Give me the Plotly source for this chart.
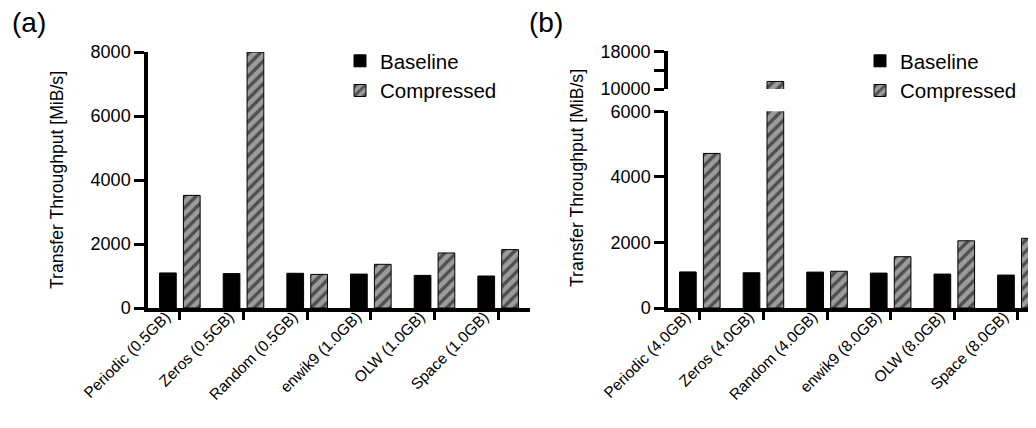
import plotly.graph_objects as go

W, H = 1036, 428

cats_a = ["Periodic (0.5GB)", "Zeros (0.5GB)", "Random (0.5GB)",
          "enwik9 (1.0GB)", "OLW (1.0GB)", "Space (1.0GB)"]
baseline_a = [1095, 1075, 1085, 1060, 1020, 1000]
compressed_a = [3520, 8000, 1050, 1365, 1720, 1825]

cats_b = ["Periodic (4.0GB)", "Zeros (4.0GB)", "Random (4.0GB)",
          "enwik9 (8.0GB)", "OLW (8.0GB)", "Space (8.0GB)"]
baseline_b = [1100, 1075, 1095, 1065, 1035, 1005]
compressed_b = [4715, 11600, 1120, 1565, 2050, 2125]

FONT = "Liberation Sans, Arial, Helvetica, sans-serif"
GREY = "#9c9c9c"

def px_x(p):
    return p / W

def px_y(p):
    return (H - p) / H

pattern = dict(shape="/", fgcolor="black", size=8,
               solidity=0.42, fillmode="overlay")

def base_trace(x, y, xa, ya, legend, show):
    return go.Bar(x=x, y=y, name="Baseline", xaxis=xa, yaxis=ya,
                  marker=dict(color="black", line=dict(color="black", width=1)),
                  legend=legend, showlegend=show, legendgroup=legend + "b")

def comp_trace(x, y, xa, ya, legend, show):
    return go.Bar(x=x, y=y, name="Compressed", xaxis=xa, yaxis=ya,
                  marker=dict(color=GREY, pattern=pattern,
                              line=dict(color="black", width=1)),
                  legend=legend, showlegend=show, legendgroup=legend + "c")

fig = go.Figure()
# panel (a)
fig.add_trace(base_trace(cats_a, baseline_a, "x", "y", "legend", True))
fig.add_trace(comp_trace(cats_a, compressed_a, "x", "y", "legend", True))
# panel (b) lower segment
fig.add_trace(base_trace(cats_b, baseline_b, "x2", "y2", "legend2", True))
fig.add_trace(comp_trace(cats_b, compressed_b, "x2", "y2", "legend2", True))
# panel (b) upper segment (broken axis)
fig.add_trace(base_trace(cats_b, baseline_b, "x2", "y3", "legend2", False))
fig.add_trace(comp_trace(cats_b, compressed_b, "x2", "y3", "legend2", False))

axis_common = dict(showline=True, linecolor="black", linewidth=3.5,
                   ticks="outside", tickwidth=3, tickcolor="black",
                   showgrid=False, zeroline=False, automargin=False)
ytick_font = dict(family=FONT, size=18, color="black")
xtick_font = dict(family=FONT, size=15.5, color="black")
x_extra = dict(tickangle=-45, tickfont=xtick_font, ticklen=8,
               ticklabelstandoff=-18, ticklabelshift=-14)
y_extra = dict(tickfont=ytick_font, ticklen=10)

fig.update_layout(
    width=W, height=H,
    margin=dict(l=0, r=0, t=0, b=0),
    paper_bgcolor="white", plot_bgcolor="white",
    barmode="group", bargap=0.25, bargroupgap=0.3,
    font=dict(family=FONT, color="black"),
    xaxis=dict(domain=[px_x(140), px_x(522)], anchor="y",
               range=[-0.5, 5.5], **x_extra, **axis_common),
    yaxis=dict(domain=[px_y(300), px_y(44)], anchor="x",
               range=[0, 8000], tickvals=[0, 2000, 4000, 6000, 8000],
               **y_extra, **axis_common),
    xaxis2=dict(domain=[px_x(660), 1.0], anchor="y2",
                range=[-0.5, 5.41], **x_extra, **axis_common),
    yaxis2=dict(domain=[px_y(300), px_y(103.3)], anchor="x2",
                range=[0, 6000], tickvals=[0, 2000, 4000, 6000],
                **y_extra, **axis_common),
    yaxis3=dict(domain=[px_y(81), px_y(43.3)], anchor="x2",
                range=[10000, 18000], tickvals=[10000, 14000, 18000],
                ticktext=["10000", "", "18000"],
                **y_extra, **axis_common),
    legend=dict(x=px_x(332), y=px_y(33), xanchor="left", yanchor="top",
                font=dict(family=FONT, size=20.5, color="black"),
                bgcolor="rgba(0,0,0,0)", tracegroupgap=0,
                traceorder="grouped"),
    legend2=dict(x=px_x(852), y=px_y(33), xanchor="left", yanchor="top",
                 font=dict(family=FONT, size=20.5, color="black"),
                 bgcolor="rgba(0,0,0,0)", tracegroupgap=0,
                 traceorder="grouped"),
    annotations=[
        dict(text="(a)", x=px_x(2), y=px_y(-3), xref="paper", yref="paper",
             xanchor="left", yanchor="top", showarrow=False,
             font=dict(family=FONT, size=28, color="black")),
        dict(text="(b)", x=px_x(519), y=px_y(-3), xref="paper", yref="paper",
             xanchor="left", yanchor="top", showarrow=False,
             font=dict(family=FONT, size=28, color="black")),
        dict(text="Transfer Throughput [MiB/s]", x=px_x(49), y=px_y(172),
             xref="paper", yref="paper", xanchor="center", yanchor="middle",
             textangle=-90, showarrow=False,
             font=dict(family=FONT, size=17.6, color="black")),
        dict(text="Transfer Throughput [MiB/s]", x=px_x(569), y=px_y(170),
             xref="paper", yref="paper", xanchor="center", yanchor="middle",
             textangle=-90, showarrow=False,
             font=dict(family=FONT, size=17.6, color="black")),
    ],
)

fig.write_html("out.html")
